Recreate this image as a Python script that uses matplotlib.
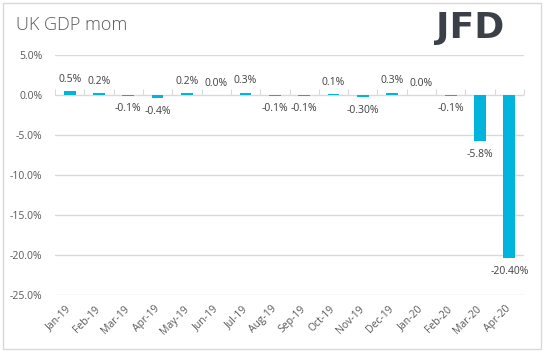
import matplotlib
matplotlib.use("Agg")
import matplotlib.pyplot as plt
from matplotlib.patches import Rectangle

categories = ["Jan-19", "Feb-19", "Mar-19", "Apr-19", "May-19", "Jun-19", "Jul-19", "Aug-19",
              "Sep-19", "Oct-19", "Nov-19", "Dec-19", "Jan-20", "Feb-20", "Mar-20", "Apr-20"]
values = [0.5, 0.2, -0.1, -0.4, 0.2, 0.0, 0.3, -0.1, -0.1, 0.1, -0.3, 0.3, 0.0, -0.1, -5.8, -20.4]
value_labels = ["0.5%", "0.2%", "-0.1%", "-0.4%", "0.2%", "0.0%", "0.3%", "-0.1%", "-0.1%",
                "0.1%", "-0.30%", "0.3%", "0.0%", "-0.1%", "-5.8%", "-20.40%"]
y_ticks = [5, 0, -5, -10, -15, -20, -25]
y_tick_labels = ["5.0%", "0.0%", "-5.0%", "-10.0%", "-15.0%", "-20.0%", "-25.0%"]

plt.rcParams['font.family'] = ['Open Sans', 'DejaVu Sans']

W, H = 543, 351
fig = plt.figure(figsize=(W / 100, H / 100), dpi=100)
fig.patch.set_facecolor('white')

# outer border
fig.patches.append(Rectangle((2.5 / W, 2.5 / H), (540.5 - 2.5) / W, (348.5 - 2.5) / H,
                             transform=fig.transFigure, fill=False,
                             edgecolor='#d9d9d9', linewidth=1.0))

ax = fig.add_axes([55 / W, 1 - 295 / H, 469 / W, 240 / H])
x = list(range(len(categories)))
bar_color = '#00B5DD'
ax.bar(x, values, width=0.4, color=bar_color, zorder=3)

ax.set_xlim(-0.5, len(categories) - 0.5)
ax.set_ylim(-25, 5)
ax.set_yticks(y_ticks)
ax.set_yticklabels(y_tick_labels)
ax.yaxis.grid(True, color='#d9d9d9', linewidth=1.0, zorder=0)
ax.set_axisbelow(True)
for s in ax.spines.values():
    s.set_visible(False)
ax.tick_params(axis='y', length=0, pad=9, labelsize=7.5, labelcolor='#595959')
ax.set_xticks(x)
ax.set_xticklabels(categories, rotation=45, ha='right', va='center', rotation_mode='anchor')
ax.tick_params(axis='x', length=0, pad=9, labelsize=7.5, labelcolor='#595959')

# category axis line at zero with tick marks between categories
ylo, yhi = ax.get_ylim()
sec = ax.secondary_xaxis((0 - ylo) / (yhi - ylo))
sec.set_xticks([i - 0.5 for i in range(len(categories) + 1)])
sec.set_xticklabels([])
sec.tick_params(axis='x', direction='out', length=4.5, width=0.8, color='#d9d9d9')
sec.spines['bottom'].set_color('#d9d9d9')
sec.spines['bottom'].set_linewidth(1.0)
for k in ('top', 'left', 'right'):
    if k in sec.spines:
        sec.spines[k].set_visible(False)

# data labels
for xi, v, lab in zip(x, values, value_labels):
    if v >= 0:
        ax.annotate(lab, (xi, v), xytext=(0, 4.5), textcoords='offset points',
                    ha='center', va='bottom', fontsize=7.5, color='#404040')
    else:
        ax.annotate(lab, (xi, v), xytext=(0, -5.5), textcoords='offset points',
                    ha='center', va='top', fontsize=7.5, color='#404040')

# title
fig.text(16 / W, 1 - 25 / H, "UK GDP mom", fontsize=13, color='#595959',
         ha='left', va='center', fontweight='light')
# logo
fig.text(470 / W, 1 - 28 / H, "JFD", fontsize=26, color='#3b4048', ha='center',
         va='center', fontweight='bold', family=['DejaVu Sans'])

fig.savefig('out.png', dpi=100, facecolor='white')
